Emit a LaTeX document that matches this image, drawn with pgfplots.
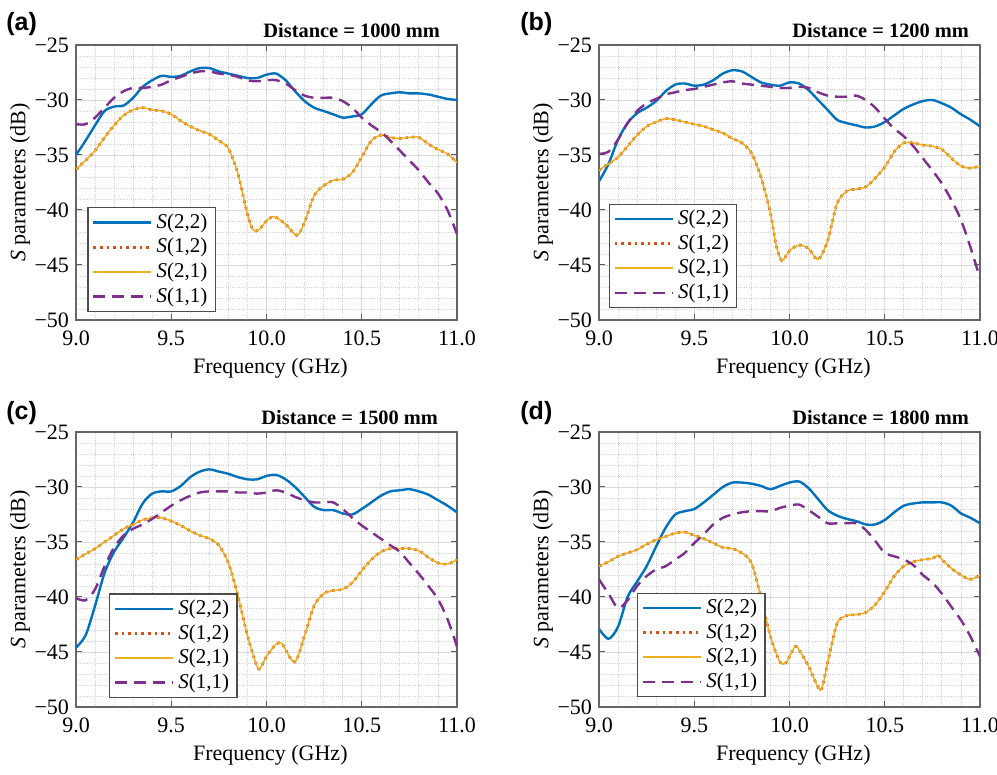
\documentclass[border=0pt]{standalone}
\usepackage{pgfplots}
\pgfplotsset{compat=1.18}
\usepackage{pgfplotstable}
\usepackage{fontspec}
\setmainfont{Liberation Serif}
\newfontfamily\panelfont{Liberation Sans}
\definecolor{mblue}{rgb}{0,0.447,0.741}
\definecolor{morange}{rgb}{0.85,0.325,0.098}
\definecolor{myellow}{rgb}{0.929,0.694,0.125}
\definecolor{mpurple}{rgb}{0.494,0.184,0.556}
\newcommand{\fsz}{\rmfamily\fontsize{11}{13}\selectfont}
\newcommand{\lsz}{\rmfamily\fontsize{10.5}{12}\selectfont}

\pgfplotstableread{
f s22 s11
9.00 -35.0 -32.2
9.05 -33.7 -32.2
9.10 -32.3 -31.6
9.15 -31.0 -30.7
9.20 -30.6 -29.8
9.25 -30.5 -29.2
9.30 -29.8 -28.9
9.35 -28.8 -28.9
9.40 -28.2 -28.8
9.45 -27.8 -28.6
9.50 -27.9 -28.2
9.55 -27.8 -27.9
9.60 -27.4 -27.6
9.65 -27.1 -27.4
9.70 -27.1 -27.4
9.75 -27.4 -27.6
9.80 -27.6 -27.7
9.85 -27.8 -27.9
9.90 -28.0 -28.2
9.95 -28.0 -28.3
10.00 -27.7 -28.2
10.05 -27.6 -28.2
10.10 -28.2 -28.5
10.15 -29.2 -29.1
10.20 -30.1 -29.6
10.25 -30.7 -29.8
10.30 -31.0 -29.8
10.35 -31.3 -29.8
10.40 -31.6 -30.1
10.45 -31.5 -30.7
10.50 -31.3 -31.6
10.55 -30.4 -32.3
10.60 -29.6 -32.9
10.65 -29.4 -33.7
10.70 -29.3 -34.6
10.75 -29.4 -35.5
10.80 -29.4 -36.4
10.85 -29.5 -37.5
10.90 -29.7 -38.5
10.95 -29.9 -40.0
11.00 -30.0 -42.2
}\tAm
\pgfplotstableread{
f s12
9.00 -36.3
9.05 -35.5
9.10 -34.6
9.15 -33.4
9.20 -32.3
9.25 -31.4
9.30 -30.9
9.35 -30.7
9.40 -30.9
9.45 -31.0
9.50 -31.3
9.55 -31.9
9.60 -32.4
9.65 -32.8
9.70 -33.1
9.75 -33.7
9.80 -34.4
9.85 -36.7
9.90 -40.4
9.93 -41.8
9.96 -41.8
10.00 -41.0
10.04 -40.6
10.10 -41.3
10.16 -42.3
10.20 -41.1
10.25 -38.7
10.30 -37.8
10.35 -37.3
10.40 -37.2
10.45 -36.6
10.50 -35.2
10.55 -33.7
10.60 -33.2
10.65 -33.4
10.70 -33.5
10.75 -33.4
10.80 -33.4
10.85 -34.0
10.90 -34.5
10.95 -34.9
11.00 -35.7
}\tAt

\pgfplotstableread{
f s22 s11
9.00 -37.4 -34.9
9.05 -35.8 -34.7
9.10 -33.6 -33.6
9.15 -32.1 -32.1
9.20 -31.2 -31.0
9.25 -30.7 -30.3
9.30 -30.1 -29.9
9.35 -29.2 -29.5
9.40 -28.6 -29.3
9.45 -28.5 -29.1
9.50 -28.7 -29.0
9.55 -28.6 -28.8
9.60 -28.2 -28.6
9.65 -27.6 -28.4
9.70 -27.3 -28.3
9.75 -27.4 -28.5
9.80 -27.9 -28.6
9.85 -28.4 -28.7
9.90 -28.6 -28.8
9.95 -28.7 -28.9
10.00 -28.4 -28.9
10.05 -28.5 -28.8
10.10 -29.1 -28.9
10.15 -30.0 -29.3
10.20 -30.9 -29.6
10.25 -31.8 -29.7
10.30 -32.1 -29.7
10.35 -32.3 -29.6
10.40 -32.5 -30.0
10.45 -32.4 -30.7
10.50 -32.0 -31.7
10.55 -31.4 -32.6
10.60 -30.8 -33.3
10.65 -30.4 -34.2
10.70 -30.1 -35.3
10.75 -30.0 -36.4
10.80 -30.3 -37.6
10.85 -30.7 -39.1
10.90 -31.3 -40.9
10.95 -31.8 -43.4
11.00 -32.4 -46.2
}\tBm
\pgfplotstableread{
f s12
9.00 -36.4
9.05 -35.8
9.10 -35.2
9.15 -34.2
9.20 -33.2
9.25 -32.4
9.30 -32.0
9.35 -31.7
9.40 -31.8
9.45 -32.0
9.50 -32.2
9.55 -32.4
9.60 -32.7
9.65 -33.0
9.70 -33.5
9.75 -33.9
9.80 -34.8
9.85 -37.0
9.90 -40.3
9.93 -43.2
9.96 -44.6
10.00 -43.7
10.05 -43.2
10.10 -43.5
10.15 -44.5
10.20 -42.8
10.25 -39.4
10.30 -38.3
10.35 -38.1
10.40 -37.9
10.45 -37.1
10.50 -36.1
10.55 -34.7
10.60 -33.9
10.65 -33.9
10.70 -34.1
10.75 -34.2
10.80 -34.5
10.85 -35.3
10.90 -36.0
10.95 -36.2
11.00 -36.0
}\tBt

\pgfplotstableread{
f s22 s11
9.00 -44.6 -40.1
9.05 -43.5 -40.3
9.10 -40.8 -39.3
9.15 -37.8 -37.2
9.20 -35.9 -35.5
9.25 -34.6 -34.4
9.30 -33.2 -33.8
9.35 -31.5 -33.4
9.40 -30.6 -32.9
9.45 -30.4 -32.3
9.50 -30.4 -31.7
9.55 -29.9 -31.2
9.60 -29.1 -30.8
9.65 -28.6 -30.5
9.70 -28.4 -30.4
9.75 -28.6 -30.4
9.80 -28.8 -30.4
9.85 -29.1 -30.5
9.90 -29.3 -30.5
9.95 -29.3 -30.6
10.00 -29.0 -30.5
10.05 -28.9 -30.3
10.10 -29.3 -30.5
10.15 -30.0 -30.9
10.20 -30.9 -31.2
10.25 -31.8 -31.4
10.30 -32.1 -31.4
10.35 -32.1 -31.4
10.40 -32.4 -32.0
10.45 -32.5 -32.8
10.50 -32.0 -33.5
10.55 -31.4 -34.1
10.60 -30.8 -34.7
10.65 -30.4 -35.3
10.70 -30.3 -35.9
10.75 -30.2 -36.9
10.80 -30.4 -37.9
10.85 -30.7 -39.0
10.90 -31.2 -40.2
10.95 -31.7 -42.0
11.00 -32.3 -44.5
}\tCm
\pgfplotstableread{
f s12
9.00 -36.6
9.05 -36.1
9.10 -35.6
9.15 -35.0
9.20 -34.4
9.25 -33.8
9.30 -33.4
9.35 -33.0
9.40 -32.8
9.45 -32.8
9.50 -33.1
9.55 -33.5
9.60 -34.0
9.65 -34.4
9.70 -34.7
9.75 -35.3
9.80 -36.9
9.85 -39.9
9.90 -43.5
9.95 -46.3
9.97 -46.4
10.00 -45.4
10.05 -44.3
10.08 -44.2
10.10 -44.8
10.15 -45.9
10.20 -43.5
10.25 -40.8
10.30 -39.7
10.35 -39.4
10.40 -39.3
10.45 -38.7
10.50 -37.6
10.55 -36.6
10.60 -35.9
10.65 -35.6
10.70 -35.6
10.75 -35.6
10.80 -35.8
10.85 -36.4
10.90 -36.9
10.95 -37.0
11.00 -36.6
}\tCt

\pgfplotstableread{
f s22 s11
9.00 -42.9 -38.4
9.05 -43.8 -39.7
9.10 -42.7 -41.0
9.15 -40.0 -40.3
9.20 -38.6 -39.0
9.25 -37.2 -38.1
9.30 -35.4 -37.5
9.35 -33.7 -37.2
9.40 -32.5 -36.6
9.45 -32.2 -36.0
9.50 -32.0 -35.1
9.55 -31.4 -34.3
9.60 -30.7 -33.4
9.65 -30.0 -32.8
9.70 -29.6 -32.5
9.75 -29.6 -32.3
9.80 -29.7 -32.2
9.85 -29.9 -32.2
9.90 -30.2 -32.2
9.95 -29.9 -31.9
10.00 -29.6 -31.7
10.05 -29.5 -31.6
10.10 -30.1 -32.1
10.15 -31.1 -32.7
10.20 -32.1 -33.3
10.25 -32.6 -33.3
10.30 -32.9 -33.3
10.35 -33.1 -33.3
10.40 -33.4 -33.9
10.45 -33.4 -34.9
10.50 -33.0 -36.0
10.55 -32.3 -36.3
10.60 -31.7 -36.6
10.65 -31.5 -37.1
10.70 -31.4 -38.0
10.75 -31.4 -38.7
10.80 -31.4 -39.7
10.85 -31.7 -40.9
10.90 -32.4 -42.1
10.95 -32.8 -43.6
11.00 -33.3 -45.4
}\tDm
\pgfplotstableread{
f s12
9.00 -37.2
9.05 -36.8
9.10 -36.3
9.15 -36.0
9.20 -35.7
9.25 -35.2
9.30 -34.8
9.35 -34.5
9.40 -34.2
9.45 -34.1
9.50 -34.4
9.55 -34.7
9.60 -35.1
9.65 -35.5
9.70 -35.6
9.75 -36.0
9.80 -36.9
9.85 -40.0
9.90 -43.6
9.95 -45.9
9.98 -46.0
10.00 -45.4
10.03 -44.5
10.05 -44.8
10.10 -46.3
10.15 -48.2
10.17 -48.3
10.20 -46.0
10.25 -42.4
10.30 -41.7
10.35 -41.6
10.40 -41.4
10.45 -40.7
10.50 -39.5
10.55 -38.1
10.60 -37.2
10.65 -36.8
10.70 -36.6
10.75 -36.5
10.78 -36.2
10.80 -36.6
10.85 -37.4
10.90 -38.0
10.95 -38.4
11.00 -38.0
}\tDt

\pgfplotsset{
  sp/.style={
    scale only axis, width=190.5pt, height=137.5pt,
    xmin=9, xmax=11, ymin=-50, ymax=-25,
    xtick={9,9.5,10,10.5,11}, xticklabels={9.0,9.5,10.0,10.5,11.0},
    ytick={-50,-45,-40,-35,-30,-25},
    yticklabels={−50,−45,−40,−35,−30,−25},
    minor x tick num=4, minor y tick num=4,
    grid=both,
    major grid style={gray!28, line width=0.45pt},
    minor grid style={gray!35, dash pattern=on 0.5pt off 0.6pt, line width=0.45pt},
    axis line style={gray!80!black, line width=0.6pt},
    tick style={gray!70!black, line width=0.5pt},
    tick align=inside, major tick length=3pt, minor tick length=0pt,
    xlabel={Frequency (GHz)}, ylabel={\textit{S} parameters (dB)},
    ticklabel style={font=\fsz}, label style={font=\fsz},
    xlabel style={at={(axis description cs:0.51,-0.174)}, anchor=center},
    ylabel style={at={(axis description cs:-0.147,0.5)}, anchor=center},
    xticklabel style={yshift=-2pt},
    legend cell align=left,
    legend style={font=\lsz, draw=gray!60!black, line width=0.6pt,
      inner xsep=2pt, inner ysep=1pt, row sep=-0.5pt, anchor=south west},
    legend image code/.code={\draw[#1] (0pt,0pt) -- (29pt,0pt);},
  },
  c22/.style={mblue, line width=1.2pt, smooth},
  c12/.style={morange, line width=1.3pt, dash pattern=on 1.3pt off 2pt, smooth},
  c21/.style={myellow, line width=0.75pt, smooth},
  c11/.style={mpurple, line width=1.2pt, dash pattern=on 6pt off 3.5pt, smooth},
}

\begin{document}
\begin{tikzpicture}
\path[use as bounding box] (0,0) rectangle (498.5pt,387.5pt);

\begin{axis}[sp, name=pa, at={(38pt,227.5pt)}, anchor=south west,
  legend style={at={(0.03,0.03)}}]
\addplot[c22] table[x=f,y=s22] {\tAm};
\addplot[c12] table[x=f,y=s12] {\tAt};
\addplot[c21] table[x=f,y=s12] {\tAt};
\addplot[c11] table[x=f,y=s11] {\tAm};
\legend{{\textit{S}(2,2)},{\textit{S}(1,2)},{\textit{S}(2,1)},{\textit{S}(1,1)}}
\end{axis}

\begin{axis}[sp, name=pb, at={(299.5pt,227.5pt)}, anchor=south west,
  legend style={at={(0.026,0.043)}}]
\addplot[c22] table[x=f,y=s22] {\tBm};
\addplot[c12] table[x=f,y=s12] {\tBt};
\addplot[c21] table[x=f,y=s12] {\tBt};
\addplot[c11] table[x=f,y=s11] {\tBm};
\legend{{\textit{S}(2,2)},{\textit{S}(1,2)},{\textit{S}(2,1)},{\textit{S}(1,1)}}
\end{axis}

\begin{axis}[sp, name=pc, at={(38pt,34pt)}, anchor=south west,
  legend style={at={(0.087,0.033)}}]
\addplot[c22] table[x=f,y=s22] {\tCm};
\addplot[c12] table[x=f,y=s12] {\tCt};
\addplot[c21] table[x=f,y=s12] {\tCt};
\addplot[c11] table[x=f,y=s11] {\tCm};
\legend{{\textit{S}(2,2)},{\textit{S}(1,2)},{\textit{S}(2,1)},{\textit{S}(1,1)}}
\end{axis}

\begin{axis}[sp, name=pd, at={(299.5pt,34pt)}, anchor=south west,
  legend style={at={(0.10,0.036)}}]
\addplot[c22] table[x=f,y=s22] {\tDm};
\addplot[c12] table[x=f,y=s12] {\tDt};
\addplot[c21] table[x=f,y=s12] {\tDt};
\addplot[c11] table[x=f,y=s11] {\tDm};
\legend{{\textit{S}(2,2)},{\textit{S}(1,2)},{\textit{S}(2,1)},{\textit{S}(1,1)}}
\end{axis}

\node[anchor=base east, font=\rmfamily\fontsize{10.2}{12}\selectfont\bfseries] at ([xshift=-5pt,yshift=3.5pt]pa.north east) {Distance = 1000 mm};
\node[anchor=base east, font=\rmfamily\fontsize{10.2}{12}\selectfont\bfseries] at ([xshift=-2pt,yshift=3.5pt]pb.north east) {Distance = 1200 mm};
\node[anchor=base east, font=\rmfamily\fontsize{10.2}{12}\selectfont\bfseries] at ([xshift=-6pt,yshift=3.5pt]pc.north east) {Distance = 1500 mm};
\node[anchor=base east, font=\rmfamily\fontsize{10.2}{12}\selectfont\bfseries] at ([xshift=-2pt,yshift=3.5pt]pd.north east) {Distance = 1800 mm};

\node[anchor=west, inner sep=0pt, font=\panelfont\fontsize{12.5}{14}\selectfont\bfseries] at (3pt,375.5pt) {(a)};
\node[anchor=west, inner sep=0pt, font=\panelfont\fontsize{12.5}{14}\selectfont\bfseries] at (260pt,375.5pt) {(b)};
\node[anchor=west, inner sep=0pt, font=\panelfont\fontsize{12.5}{14}\selectfont\bfseries] at (3pt,181pt) {(c)};
\node[anchor=west, inner sep=0pt, font=\panelfont\fontsize{12.5}{14}\selectfont\bfseries] at (260pt,181pt) {(d)};
\end{tikzpicture}
\end{document}
